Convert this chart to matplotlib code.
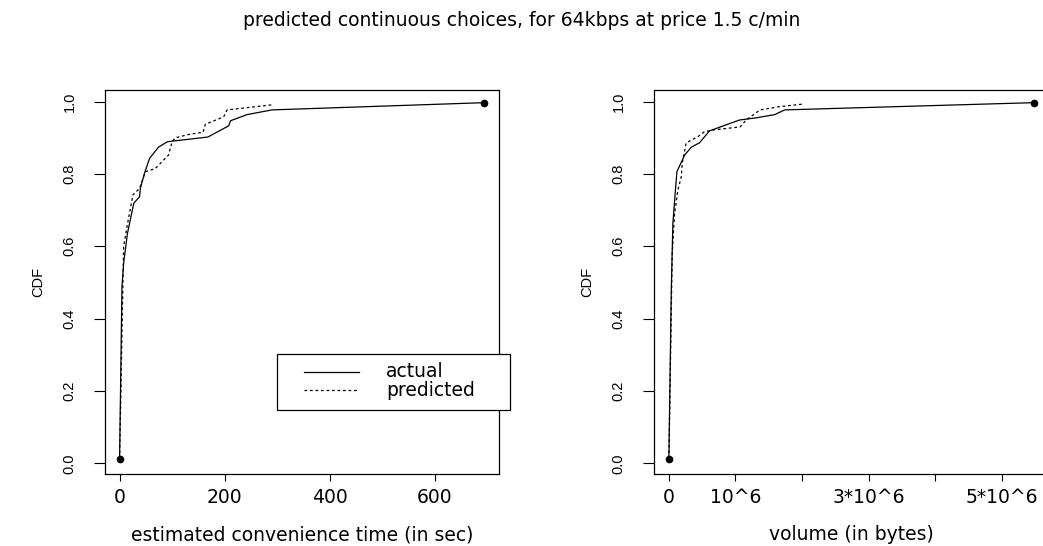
import matplotlib
matplotlib.use("Agg")
import matplotlib.pyplot as plt
from matplotlib.patches import Rectangle
from matplotlib.lines import Line2D

plt.rcParams['font.family'] = ['Liberation Sans', 'DejaVu Sans']

# ---- data: left panel (convenience time, sec) ----
time_actual_x = [0, 4.5, 7.7, 15, 27, 38, 39.5, 47, 57, 74, 91, 168, 207.6, 211, 242.6, 290, 694]
time_actual_y = [0.013, 0.488, 0.553, 0.636, 0.719, 0.737, 0.760, 0.800, 0.843, 0.874, 0.889, 0.902, 0.933, 0.947, 0.964, 0.977, 0.997]
time_pred_x = [0, 7.7, 14, 25.4, 38, 49, 68, 93, 100, 106, 134.5, 158.8, 163, 198, 204.6, 290]
time_pred_y = [0.013, 0.599, 0.654, 0.742, 0.760, 0.806, 0.815, 0.852, 0.889, 0.900, 0.910, 0.915, 0.937, 0.958, 0.977, 0.991]

# ---- data: right panel (volume, in 10^6 bytes) ----
vol_actual_x = [0, 0.036, 0.06, 0.12, 0.236, 0.337, 0.46, 0.61, 1.06, 1.31, 1.59, 1.74, 5.48]
vol_actual_y = [0.013, 0.479, 0.664, 0.806, 0.852, 0.874, 0.886, 0.919, 0.949, 0.955, 0.964, 0.977, 0.997]
vol_pred_x = [0, 0.05, 0.086, 0.136, 0.186, 0.2, 0.26, 0.436, 0.537, 0.687, 1.07, 1.16, 1.37, 1.66, 2.01]
vol_pred_y = [0.013, 0.58, 0.691, 0.756, 0.792, 0.829, 0.886, 0.903, 0.917, 0.922, 0.93, 0.949, 0.977, 0.986, 0.993]

time_ticks = [0, 200, 400, 600]
time_ticklabels = ["0", "200", "400", "600"]
vol_ticks = [0, 1, 2, 3, 4, 5]
vol_ticklabels = ["0", "10^6", "", "3*10^6", "", "5*10^6"]
y_ticks = [0.0, 0.2, 0.4, 0.6, 0.8, 1.0]
y_ticklabels = ["0.0", "0.2", "0.4", "0.6", "0.8", "1.0"]

title = "predicted continuous choices, for 64kbps at price 1.5 c/min"
xlabels = ["estimated convenience time (in sec)", "volume (in bytes)"]

FS_V = 10.5                  # rotated (vertical) text
FS_H = 13.5                  # horizontal text (wide)
HFONT = ['DejaVu Sans']
W, H = 1043, 546
fig = plt.figure(figsize=(W / 100, H / 100), dpi=100)

def fx(px):
    return px / W

def fy(py):
    return 1 - py / H

ax_w = 394 / W
ax_h = 384 / H
ax1 = fig.add_axes([fx(105), fy(474), ax_w, ax_h])
ax2 = fig.add_axes([fx(654.3), fy(474), ax_w, ax_h])

dotted = (0, (2.2, 2.2))

def style(ax, xs_list, ticks, ticklabels, xlabel):
    allx = [v for xs in xs_list for v in xs]
    lo, hi = min(allx), max(allx)
    pad = 0.04 * (hi - lo)
    ax.set_xlim(lo - pad, hi + pad)
    ax.set_ylim(-0.0297, 1.032)
    ax.set_xticks(ticks)
    ax.set_xticklabels(ticklabels, fontsize=FS_H, family=HFONT)
    ax.set_yticks(y_ticks)
    ax.set_yticklabels(y_ticklabels, fontsize=FS_V, rotation=90, va='center')
    ax.tick_params(axis='x', length=5, width=0.8, pad=5.3)
    ax.tick_params(axis='y', length=8, width=0.8, pad=12.5)
    for s in ax.spines.values():
        s.set_linewidth(0.9)
    ax.set_xlabel(xlabel, fontsize=FS_H, family=HFONT, va='center')
    ax.xaxis.set_label_coords(0.5, (474 - 535) / 384)
    ax.set_ylabel("CDF", fontsize=FS_V, va='center')
    ax.yaxis.set_label_coords(-0.17, 0.5)

ax1.plot(time_actual_x, time_actual_y, color='black', lw=0.9)
ax1.plot(time_pred_x, time_pred_y, color='black', lw=0.9, linestyle=dotted)
ax1.plot([time_actual_x[0], time_actual_x[-1]], [time_actual_y[0], time_actual_y[-1]],
         linestyle='none', marker='o', color='black', markersize=4.5)
style(ax1, [time_actual_x, time_pred_x], time_ticks, time_ticklabels, xlabels[0])

ax2.plot(vol_actual_x, vol_actual_y, color='black', lw=0.9, clip_on=False)
ax2.plot(vol_pred_x, vol_pred_y, color='black', lw=0.9, linestyle=dotted)
ax2.plot([vol_actual_x[0], vol_actual_x[-1]], [vol_actual_y[0], vol_actual_y[-1]],
         linestyle='none', marker='o', color='black', markersize=4.5)
style(ax2, [vol_actual_x, vol_pred_x], vol_ticks, vol_ticklabels, xlabels[1])

# legend box (left panel, extends past right edge like the original)
tr = ax1.transAxes
ax1.add_patch(Rectangle((0.436, 0.1667), 1.028 - 0.436, 0.3125 - 0.1667, transform=tr,
                        fill=True, facecolor='white', edgecolor='black', lw=0.9, clip_on=False, zorder=5))
ax1.add_line(Line2D([0.505, 0.645], [0.2664, 0.2664], transform=tr, color='black', lw=0.9, zorder=6, clip_on=False))
ax1.add_line(Line2D([0.505, 0.645], [0.21875, 0.21875], transform=tr, color='black', lw=0.9,
                    linestyle=dotted, zorder=6, clip_on=False))
ax1.text(0.713, 0.2664, "actual", transform=tr, fontsize=FS_H, family=HFONT, va='center', ha='left', zorder=7)
ax1.text(0.713, 0.21875, "predicted", transform=tr, fontsize=FS_H, family=HFONT, va='center', ha='left', zorder=7)

fig.text(0.5, fy(20), title, ha='center', va='center', fontsize=FS_H, family=HFONT)

fig.savefig("out.png", dpi=100)
